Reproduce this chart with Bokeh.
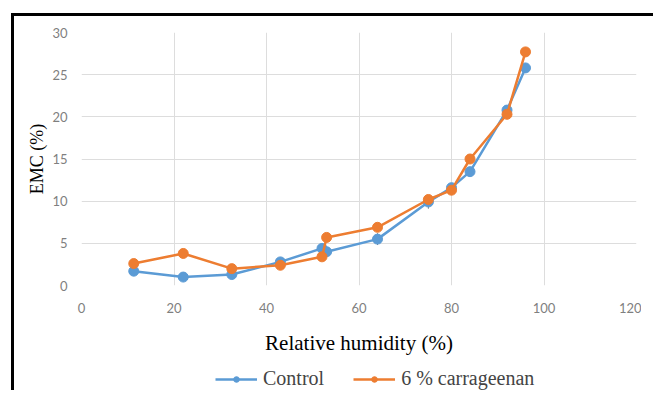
from bokeh.plotting import figure
from bokeh.layouts import column, row
from bokeh.models import ColumnDataSource, Whisker, Legend, LegendItem, FixedTicker, Div, Spacer
from bokeh.embed import file_html
from bokeh.resources import INLINE

# Data
rh = [11.3, 22, 32.5, 43, 52, 53, 64, 75, 80, 84, 92, 96]
control = [1.7, 1.0, 1.3, 2.8, 4.4, 4.0, 5.5, 9.9, 11.6, 13.5, 20.8, 25.8]
control_err = [0.2, 0.2, 0.2, 0.2, 0.2, 0.2, 0.7, 0.8, 0.3, 0.3, 0.3, 0.3]
carrageenan = [2.6, 3.8, 2.0, 2.4, 3.4, 5.7, 6.9, 10.2, 11.3, 15.0, 20.3, 27.7]
carrageenan_err = [0.2, 0.5, 0.2, 0.2, 0.2, 0.2, 0.3, 0.3, 0.3, 0.3, 0.3, 0.5]
series_names = ["Control", "6 % carrageenan"]
x_ticks = [0, 20, 40, 60, 80, 100, 120]
y_ticks = [0, 5, 10, 15, 20, 25, 30]

BLUE = "#5B9BD5"
ORANGE = "#ED7D31"

p = figure(width=627, height=341, x_range=(0, 120), y_range=(0, 30),
           output_backend="svg", toolbar_location=None,
           min_border_left=67, min_border_right=5, min_border_top=16, min_border_bottom=10)
p.outline_line_color = None
p.background_fill_color = "white"

for ax in (p.xaxis[0], p.yaxis[0]):
    ax.axis_line_color = None
    ax.major_tick_line_color = None
    ax.minor_tick_line_color = None
    ax.major_label_text_color = "#7F7F7F"
    ax.major_label_text_font = "Lato"
    ax.major_label_text_font_size = "13px"
    ax.axis_label_text_font = "Liberation Serif"
    ax.axis_label_text_font_style = "normal"
    ax.axis_label_text_color = "black"

p.xaxis.ticker = FixedTicker(ticks=x_ticks)
p.yaxis.ticker = FixedTicker(ticks=y_ticks)
p.xaxis.major_label_standoff = 11
p.yaxis.major_label_standoff = 8
p.xaxis.axis_label = "Relative humidity (%)"
p.yaxis.axis_label = "EMC (%)"
p.xaxis.axis_label_text_font_size = "21px"
p.yaxis.axis_label_text_font_size = "18px"
p.xaxis.axis_label_standoff = 15
p.yaxis.axis_label_standoff = 2

p.xgrid.ticker = FixedTicker(ticks=x_ticks)
p.ygrid.ticker = FixedTicker(ticks=y_ticks)
p.xgrid.grid_line_color = "#DDDDDD"
p.ygrid.grid_line_color = "#DDDDDD"

src_c = ColumnDataSource(dict(x=rh, y=control,
                              lo=[v - e for v, e in zip(control, control_err)],
                              hi=[v + e for v, e in zip(control, control_err)]))
src_o = ColumnDataSource(dict(x=rh, y=carrageenan,
                              lo=[v - e for v, e in zip(carrageenan, carrageenan_err)],
                              hi=[v + e for v, e in zip(carrageenan, carrageenan_err)]))

p.line("x", "y", source=src_c, line_color=BLUE, line_width=2.5)
p.scatter("x", "y", source=src_c, size=10, fill_color=BLUE, line_color=BLUE)
p.add_layout(Whisker(source=src_c, base="x", lower="lo", upper="hi", line_color="#7F7F7F",
                     upper_head=None, lower_head=None))

p.line("x", "y", source=src_o, line_color=ORANGE, line_width=2.5)
p.scatter("x", "y", source=src_o, size=10, fill_color=ORANGE, line_color=ORANGE)
p.add_layout(Whisker(source=src_o, base="x", lower="lo", upper="hi", line_color="#7F7F7F",
                     upper_head=None, lower_head=None))

# Legend strip below the chart (same series, drawn outside this strip's view)
lg = figure(width=627, height=33, output_backend="svg", toolbar_location=None,
            x_range=(-10, -9), y_range=(-10, -9), min_border=0)
lg.outline_line_color = None
lg.axis.visible = False
lg.grid.visible = False
items = []
for name, col, src in zip(series_names, [BLUE, ORANGE], [src_c, src_o]):
    r1 = lg.line("x", "y", source=src, line_color=col, line_width=2.5)
    r2 = lg.scatter("x", "y", source=src, size=8, fill_color=col, line_color=col)
    items.append(LegendItem(label=name, renderers=[r1, r2]))
legend = Legend(items=items, orientation="horizontal", location=(134, 0),
                label_text_font="Liberation Serif", label_text_font_size="20px",
                glyph_width=42, glyph_height=14, spacing=29, padding=2, margin=0,
                border_line_color=None, background_fill_alpha=0, label_standoff=6)
lg.add_layout(legend)

top_bar = Div(text="", width=642, height=3, margin=0, styles={"background-color": "black"})
left_bar = Div(text="", width=3, height=374, margin=0, styles={"background-color": "black"})

layout = column(
    Spacer(height=13, margin=0),
    row(Spacer(width=11, margin=0),
        column(top_bar, row(left_bar, column(p, lg, spacing=0), spacing=0), spacing=0),
        spacing=0),
    spacing=0)
open("out.html", "w").write(file_html(layout, INLINE))
